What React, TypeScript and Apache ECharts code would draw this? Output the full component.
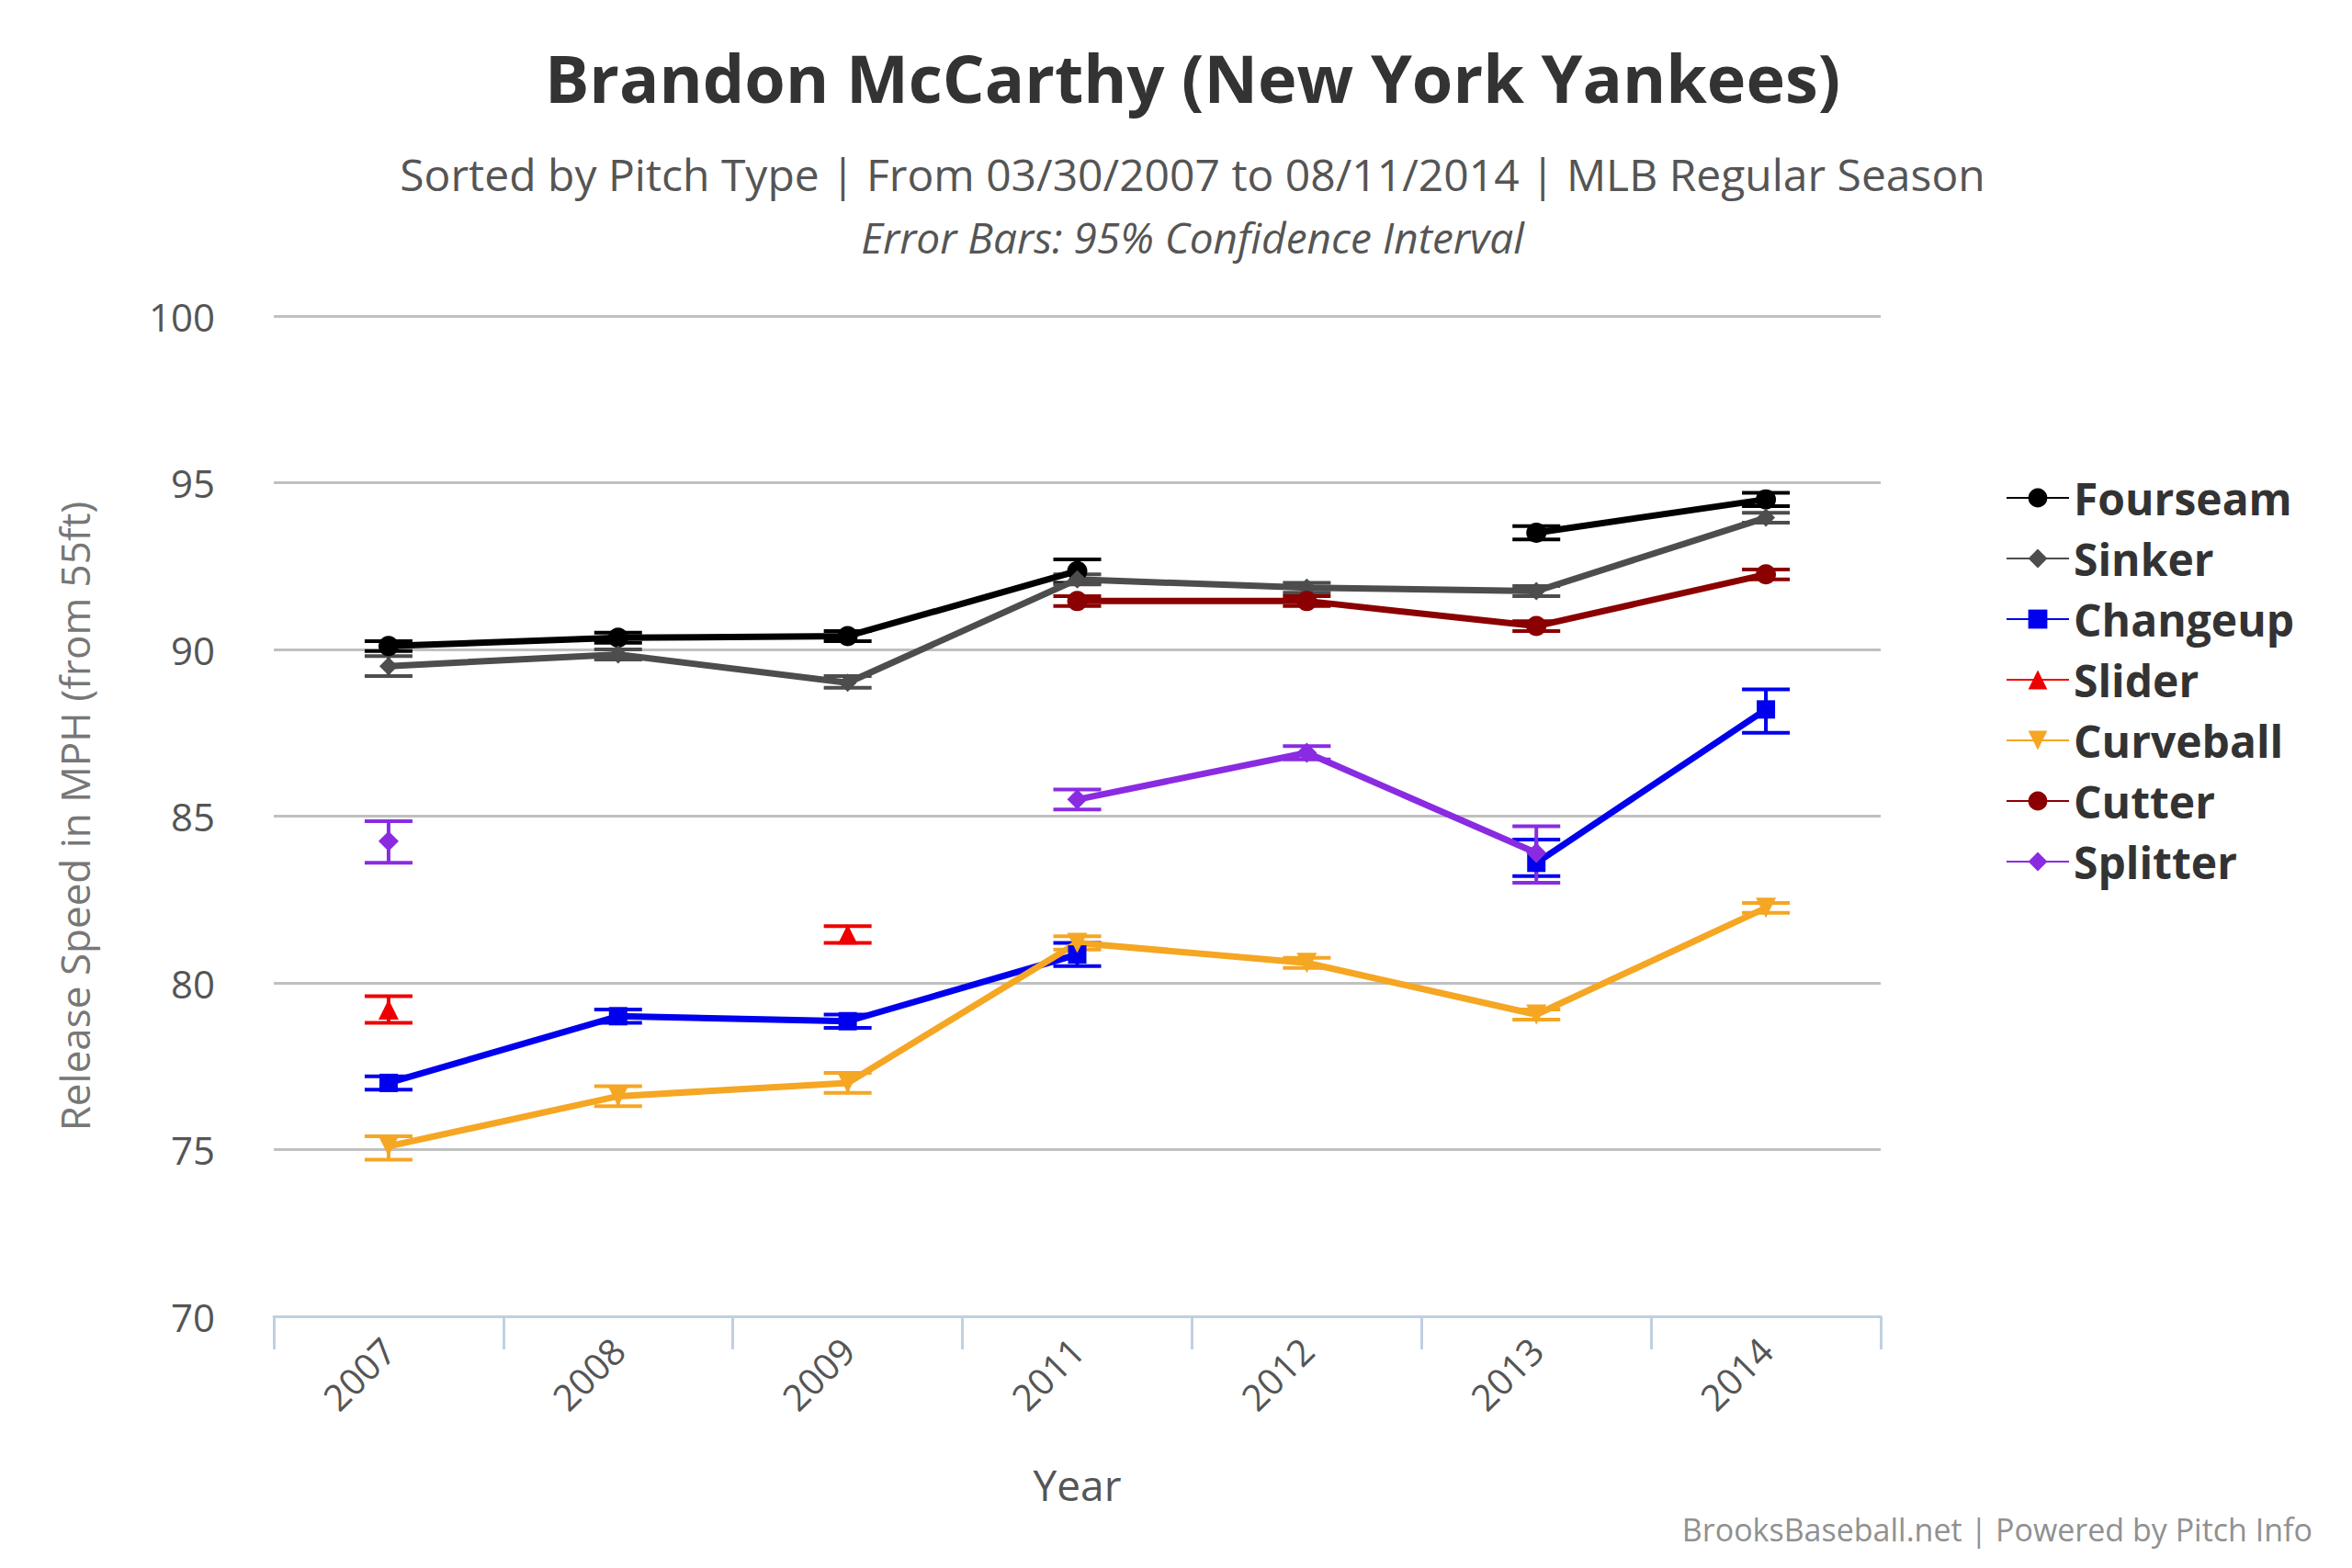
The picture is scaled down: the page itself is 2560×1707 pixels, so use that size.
import React, { useEffect, useRef } from 'react'
import * as echarts from 'echarts'

const years = ['2007', '2008', '2009', '2011', '2012', '2013', '2014']
const yTicks = [70, 75, 80, 85, 90, 95, 100]

type V = number | null
const fourseam: V[] = [90.1, 90.35, 90.4, 92.35, null, 93.5, 94.5]
const fourseamErr: V[][] = [[89.95, 90.25], [90.2, 90.5], [90.25, 90.55], [92.0, 92.7], [null, null], [93.3, 93.7], [94.3, 94.7]]
const sinker: V[] = [89.5, 89.85, 89.0, 92.1, 91.85, 91.75, 93.95]
const sinkerErr: V[][] = [[89.2, 89.8], [89.7, 90.0], [88.85, 89.2], [91.95, 92.25], [91.7, 92.0], [91.6, 91.9], [93.8, 94.1]]
const changeup: V[] = [77.0, 79.0, 78.85, 80.85, null, 83.6, 88.2]
const changeupErr: V[][] = [[76.8, 77.2], [78.8, 79.2], [78.65, 79.05], [80.5, 81.2], [null, null], [83.2, 84.3], [87.5, 88.8]]
const slider: V[] = [79.2, null, 81.45, null, null, null, null]
const sliderErr: V[][] = [[78.8, 79.6], [null, null], [81.2, 81.7], [null, null], [null, null], [null, null], [null, null]]
const curveball: V[] = [75.1, 76.6, 77.0, 81.2, 80.6, 79.05, 82.25]
const curveballErr: V[][] = [[74.7, 75.4], [76.3, 76.9], [76.7, 77.3], [81.0, 81.4], [80.45, 80.75], [78.9, 79.2], [82.1, 82.4]]
const cutter: V[] = [null, null, null, 91.45, 91.45, 90.7, 92.25]
const cutterErr: V[][] = [[null, null], [null, null], [null, null], [91.3, 91.6], [91.3, 91.6], [90.55, 90.85], [92.1, 92.4]]
const splitter: V[] = [84.25, null, null, 85.5, 86.9, 83.9, null]
const splitterErr: V[][] = [[83.6, 84.85], [null, null], [null, null], [85.2, 85.8], [86.7, 87.1], [83.0, 84.7], [null, null]]

const FONT = '"Open Sans", sans-serif'

const pitches = [
  { name: 'Fourseam', color: '#000000', data: fourseam, err: fourseamErr, symbol: 'circle', size: 22 },
  { name: 'Sinker', color: '#4d4d4d', data: sinker, err: sinkerErr, symbol: 'diamond', size: 20 },
  { name: 'Changeup', color: '#0000ee', data: changeup, err: changeupErr, symbol: 'rect', size: 20 },
  { name: 'Slider', color: '#ee0000', data: slider, err: sliderErr, symbol: 'triangle', size: 22 },
  { name: 'Curveball', color: '#f5a623', data: curveball, err: curveballErr, symbol: 'path://M0,0 L10,0 L5,9 Z', size: 22 },
  { name: 'Cutter', color: '#8b0000', data: cutter, err: cutterErr, symbol: 'circle', size: 22 },
  { name: 'Splitter', color: '#8a2be2', data: splitter, err: splitterErr, symbol: 'diamond', size: 22 },
]

export default function App() {
  const ref = useRef<HTMLDivElement>(null)

  useEffect(() => {
    if (!ref.current) return
    const chart = echarts.init(ref.current, undefined, { renderer: 'svg' })

    const lineSeries: any[] = pitches.map(p => ({
      name: p.name,
      type: 'line',
      data: p.data,
      connectNulls: false,
      symbol: p.symbol,
      symbolSize: p.size,
      showAllSymbol: true,
      itemStyle: { color: p.color },
      lineStyle: { color: p.color, width: 7 },
      z: 3,
    }))

    const errSeries: any[] = pitches.map(p => ({
      name: p.name + ' error',
      type: 'custom',
      itemStyle: { color: p.color },
      data: p.err.map((e, i) => (e[0] == null ? [i, NaN, NaN] : [i, e[0], e[1]])),
      z: 2,
      renderItem: (params: any, api: any) => {
        if (isNaN(api.value(1))) return null
        const lo = api.coord([api.value(0), api.value(1)])
        const hi = api.coord([api.value(0), api.value(2)])
        const w = 26
        const style = { stroke: p.color, lineWidth: 4 }
        return {
          type: 'group',
          children: [
            { type: 'line', shape: { x1: lo[0], y1: lo[1], x2: hi[0], y2: hi[1] }, style },
            { type: 'line', shape: { x1: lo[0] - w, y1: lo[1], x2: lo[0] + w, y2: lo[1] }, style },
            { type: 'line', shape: { x1: hi[0] - w, y1: hi[1], x2: hi[0] + w, y2: hi[1] }, style },
          ],
        }
      },
    }))

    chart.setOption({
      animation: false,
      backgroundColor: '#ffffff',
      title: [
        {
          text: 'Brandon McCarthy (New York Yankees)',
          left: 1285, top: 35, textAlign: 'center',
          textStyle: { fontFamily: FONT, fontSize: 72, fontWeight: 'bold', color: '#333333' },
        },
        {
          text: 'Sorted by Pitch Type | From 03/30/2007 to 08/11/2014 | MLB Regular Season',
          left: 1285, top: 152, textAlign: 'center',
          textStyle: { fontFamily: FONT, fontSize: 48, fontWeight: 'normal', color: '#555555' },
        },
        {
          text: 'Error Bars: 95% Confidence Interval',
          left: 1285, top: 222, textAlign: 'center',
          textStyle: { fontFamily: FONT, fontSize: 46, fontStyle: 'italic', fontWeight: 'normal', color: '#555555' },
        },
        {
          text: 'BrooksBaseball.net | Powered by Pitch Info',
          right: 30, top: 1635,
          textStyle: { fontFamily: FONT, fontSize: 34, fontWeight: 'normal', color: '#909090' },
        },
      ],
      legend: {
        data: pitches.map(p => p.name),
        orient: 'vertical',
        left: 2170, top: 505,
        itemGap: 18,
        itemWidth: 68, itemHeight: 26,
        textStyle: { fontFamily: FONT, fontSize: 48, fontWeight: 'bold', color: '#333333' },
      },
      grid: { left: 290, right: 505, top: 336, bottom: 266 },
      xAxis: {
        type: 'category',
        data: years,
        boundaryGap: true,
        name: 'Year',
        nameLocation: 'middle',
        nameGap: 160,
        nameTextStyle: { fontFamily: FONT, fontSize: 46, color: '#555555' },
        axisLine: { lineStyle: { color: '#c0d0e0', width: 3 } },
        axisTick: { show: true, inside: false, length: 36, lineStyle: { color: '#c0d0e0', width: 3 } },
        axisLabel: { rotate: 45, fontFamily: FONT, fontSize: 40, color: '#555555', margin: 30 },
      },
      yAxis: {
        type: 'value',
        min: 70, max: 100, interval: 5,
        name: 'Release Speed in MPH (from 55ft)',
        nameLocation: 'middle',
        nameGap: 195,
        nameTextStyle: { fontFamily: FONT, fontSize: 44, color: '#777777' },
        axisLine: { show: false },
        axisTick: { show: false },
        axisLabel: {
          fontFamily: FONT, fontSize: 42, color: '#555555', margin: 64,
          formatter: (v: number) => (yTicks.includes(v) ? String(v) : ''),
        },
        splitLine: { lineStyle: { color: '#c0c0c0', width: 3 } },
      },
      series: [...errSeries, ...lineSeries],
    })

    return () => chart.dispose()
  }, [])

  return <div ref={ref} style={{ width: 2544, height: 1691 }} />
}
